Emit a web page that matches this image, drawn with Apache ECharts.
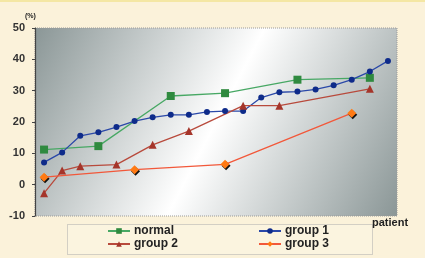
<!DOCTYPE html>
<html><head><meta charset="utf-8">
<script src="https://cdn.jsdelivr.net/npm/echarts@6/dist/echarts.min.js"></script>
<style>
html,body{margin:0;padding:0;background:#fbf2da;}
#c{width:425px;height:258px;box-sizing:border-box;border-top:2px solid #f4e7a4;}
</style></head>
<body><div id="c"></div>
<script>
const categories = ['1','2','3','4','5','6','7','8','9','10','11','12','13','14','15','16','17','18','19','20'];
const normal = [11.2,null,null,12.3,null,null,null,28.3,null,null,29.2,null,null,null,33.5,null,null,null,34.1,null];
const group1 = [7.1,10.3,15.6,16.7,18.4,20.3,21.5,22.3,22.3,23.2,23.5,23.5,27.8,29.5,29.7,30.4,31.7,33.5,36.1,39.5];
const group2 = [-2.7,4.5,5.9,null,6.4,null,12.7,null,17.1,null,null,25.2,null,25.2,null,null,null,null,30.6,null];
const group3 = [2.4,null,null,null,null,4.8,null,null,null,null,6.5,null,null,null,null,null,null,22.8,null,null];
const yTicks = {min:-10, max:50, interval:10};

const chart = echarts.init(document.getElementById('c'), null, {renderer:'canvas'});
const font = 'Liberation Sans, Arial, sans-serif';
function line(name, data, symbol, size, lineColor, markColor, extra) {
  return Object.assign({
    name, type:'line', data, connectNulls:true, symbol, symbolSize:size,
    lineStyle:{color:lineColor, width:1.3},
    itemStyle:{color:markColor},
    emphasis:{disabled:true}, animation:false
  }, extra||{});
}
function leg(name, left, top) {
  return {left, top, padding:0, itemWidth:22, itemHeight:7, itemGap:0, data:[name],
    textStyle:{fontWeight:'bold', fontSize:12, fontFamily:font, color:'#222', padding:[0,0,0,-1]}};
}
chart.setOption({
  animation:false,
  grid:{left:35, top:26, width:362, height:188, show:true,
    backgroundColor:new echarts.graphic.LinearGradient(0,0,1,1,[
      {offset:0,color:'#8a9696'},{offset:0.5,color:'#ffffff'},{offset:1,color:'#8a9696'}]),
    borderColor:'#9a9a9a', borderWidth:1, borderType:'dotted'},
  xAxis:{type:'category', data:categories, boundaryGap:true,
    axisLine:{show:false}, axisTick:{show:false}, axisLabel:{show:false}, splitLine:{show:false}},
  yAxis:{type:'value', min:yTicks.min, max:yTicks.max, interval:yTicks.interval,
    axisLine:{show:true, lineStyle:{color:'#444', width:1.2}},
    axisTick:{show:true, length:3, lineStyle:{color:'#444'}},
    splitLine:{show:false},
    axisLabel:{color:'#333', fontWeight:'bold', fontSize:11, fontFamily:font, margin:10}},
  legend:[
    leg('normal', 107, 223),
    leg('group 2', 107, 236),
    leg('group 1', 258, 223),
    leg('group 3', 258, 236)
  ],
  graphic:[
    {type:'rect', left:67, top:222, shape:{width:305, height:30},
     style:{fill:'rgba(255,255,255,0.15)', stroke:'#aaa', lineWidth:1, lineDash:[1,1]}, z:-1},
    {type:'text', left:372, top:215, style:{text:'patient', font:'bold 11px '+font, fill:'#222'}},
    {type:'text', left:25, top:11, style:{text:'(%)', font:'bold 7px '+font, fill:'#222'}}
  ],
  series:[
    line('normal', normal, 'rect', 8, '#47a864', '#2f8a3f'),
    line('group 1', group1, 'circle', 6, '#2a48a8', '#0e2b8a'),
    line('group 2', group2, 'triangle', 8, '#b84a3c', '#a5352a'),
    line('group 3', group3, 'diamond', 9, '#f2583a', '#ff7a14',
      {itemStyle:{color:'#ff7a14', shadowColor:'#111', shadowBlur:0, shadowOffsetX:1, shadowOffsetY:1.5}})
  ]
});
</script></body></html>
